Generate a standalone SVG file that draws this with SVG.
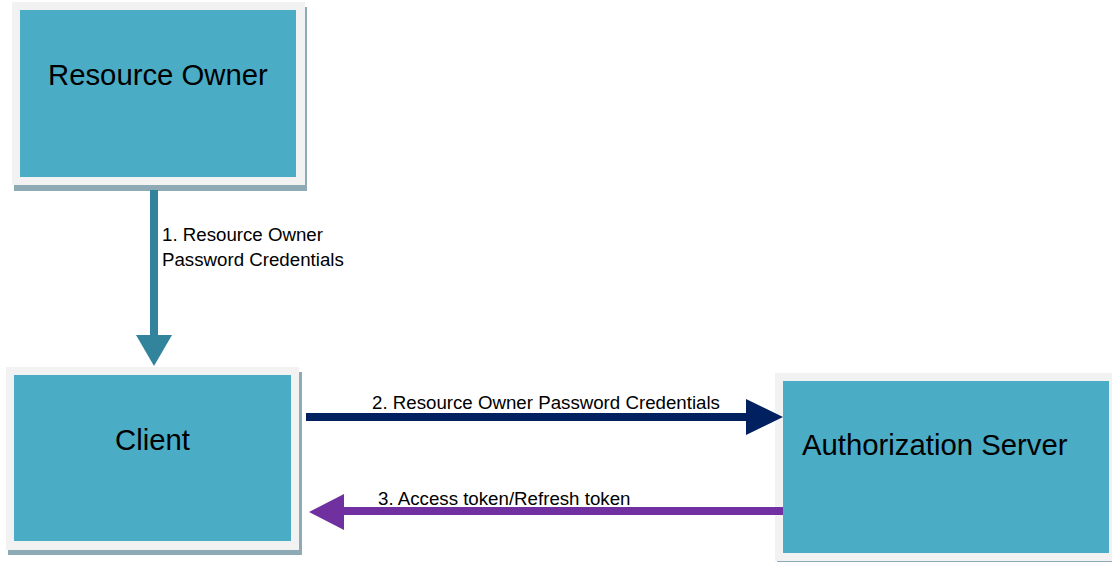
<svg xmlns="http://www.w3.org/2000/svg" width="1112" height="562" viewBox="0 0 1112 562">
  <style>
    .shadow { fill: #8eaab4; }
    .frame { fill: #f2f2f2; }
    .body { fill: #4bacc6; }
    .title { font-family: "Liberation Sans", Arial, sans-serif; font-size: 29.3px; fill: #000; }
    .label { font-family: "Liberation Sans", Arial, sans-serif; font-size: 18.7px; fill: #000; }
  </style>
  <rect width="1112" height="562" fill="#ffffff"/>

  <!-- Resource Owner -->
  <g id="resource-owner">
    <rect class="shadow" x="14" y="7" width="293" height="184"/>
    <rect class="frame" x="12" y="2" width="293" height="183"/>
    <rect class="body" x="20" y="10" width="276" height="167"/>
    <text class="title" x="48" y="85">Resource Owner</text>
  </g>

  <!-- Client -->
  <g id="client">
    <rect class="shadow" x="8" y="372" width="294" height="183"/>
    <rect class="frame" x="6" y="367" width="293" height="183"/>
    <rect class="body" x="14" y="375" width="277" height="166"/>
    <text class="title" x="115" y="450">Client</text>
  </g>

  <!-- Authorization Server -->
  <g id="authorization-server">
    <rect class="shadow" x="777" y="378" width="340" height="186"/>
    <rect class="frame" x="775" y="373" width="340" height="188"/>
    <rect class="body" x="783" y="381" width="326" height="172"/>
    <text class="title" x="802" y="455">Authorization Server</text>
  </g>

  <!-- Connectors -->
  <g id="connectors">
    <!-- 1: Resource Owner to Client -->
    <rect x="150" y="190" width="8" height="146" fill="#31849b"/>
    <polygon points="136,335 172,335 154,366" fill="#31849b"/>
    <text class="label" x="162" y="241">1. Resource Owner</text>
    <text class="label" x="162" y="266">Password Credentials</text>

    <!-- 2: Client to Authorization Server -->
    <rect x="306" y="413" width="442" height="8" fill="#002060"/>
    <polygon points="746,399 746,435 783,417" fill="#002060"/>
    <text class="label" x="372" y="409">2. Resource Owner Password Credentials</text>

    <!-- 3: Authorization Server to Client -->
    <rect x="342" y="507" width="441" height="8" fill="#7030a0"/>
    <polygon points="344,494 344,530 309,512" fill="#7030a0"/>
    <text class="label" x="378" y="505">3. Access token/Refresh token</text>
  </g>
</svg>
